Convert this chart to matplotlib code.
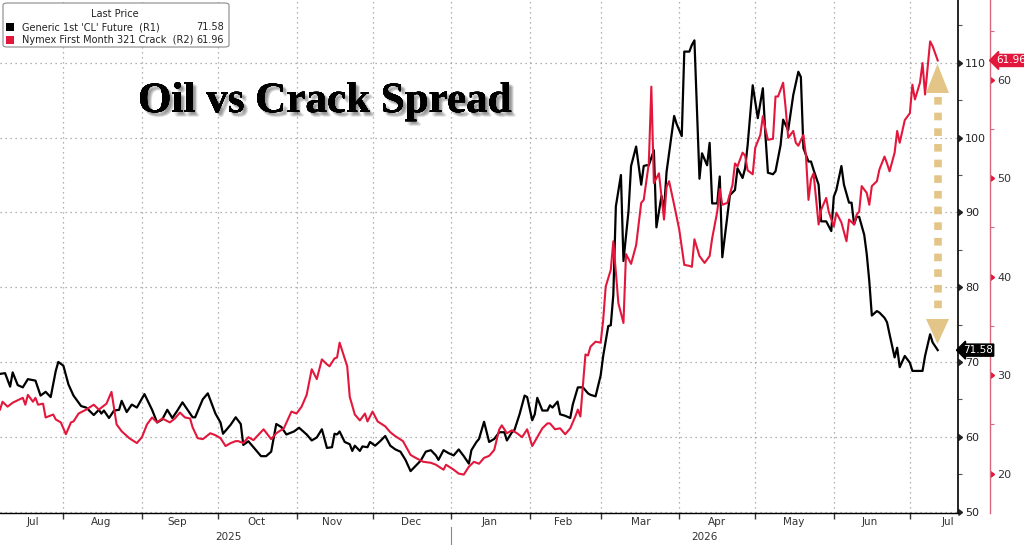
import matplotlib
matplotlib.use('Agg')
import matplotlib.pyplot as plt
import matplotlib.patheffects as pe
import matplotlib.transforms as mtransforms
from matplotlib.patches import FancyBboxPatch, Polygon, Rectangle
from matplotlib.lines import Line2D
from matplotlib.ticker import MultipleLocator, NullFormatter
import pandas as pd

# Generic 1st 'CL' Future (R1)
cl_dates = [
    '2025-07-07', '2025-07-09', '2025-07-11', '2025-07-12', '2025-07-14', '2025-07-16', '2025-07-18', '2025-07-21', '2025-07-23', '2025-07-25', '2025-07-27', '2025-07-29', '2025-07-30',
    '2025-08-01', '2025-08-03', '2025-08-05', '2025-08-08', '2025-08-10', '2025-08-13', '2025-08-15', '2025-08-16', '2025-08-17', '2025-08-19', '2025-08-21', '2025-08-23', '2025-08-24', '2025-08-26', '2025-08-28', '2025-08-30',
    '2025-09-02', '2025-09-05', '2025-09-07', '2025-09-09', '2025-09-11', '2025-09-13', '2025-09-15', '2025-09-17', '2025-09-19', '2025-09-21', '2025-09-22', '2025-09-25', '2025-09-27', '2025-09-30',
    '2025-10-02', '2025-10-03', '2025-10-06', '2025-10-08', '2025-10-10', '2025-10-11', '2025-10-13', '2025-10-15', '2025-10-18', '2025-10-20', '2025-10-22', '2025-10-24', '2025-10-26', '2025-10-28', '2025-10-31',
    '2025-11-02', '2025-11-05', '2025-11-07', '2025-11-09', '2025-11-11', '2025-11-13', '2025-11-15', '2025-11-16', '2025-11-17', '2025-11-18', '2025-11-20', '2025-11-22', '2025-11-23', '2025-11-24', '2025-11-26', '2025-11-27', '2025-11-29', '2025-11-30',
    '2025-12-02', '2025-12-04', '2025-12-06', '2025-12-08', '2025-12-10', '2025-12-12', '2025-12-14', '2025-12-16', '2025-12-18', '2025-12-20', '2025-12-22', '2025-12-24', '2025-12-26', '2025-12-27', '2025-12-29', '2025-12-31',
    '2026-01-02', '2026-01-04', '2026-01-06', '2026-01-08', '2026-01-09', '2026-01-11', '2026-01-12', '2026-01-14', '2026-01-16', '2026-01-18', '2026-01-20', '2026-01-22', '2026-01-23', '2026-01-25', '2026-01-26', '2026-01-28', '2026-01-30', '2026-01-31',
    '2026-02-02', '2026-02-03', '2026-02-04', '2026-02-06', '2026-02-08', '2026-02-09', '2026-02-10', '2026-02-12', '2026-02-13', '2026-02-15', '2026-02-17', '2026-02-18', '2026-02-20', '2026-02-22', '2026-02-24', '2026-02-25', '2026-02-27',
    '2026-03-01', '2026-03-02', '2026-03-04', '2026-03-05', '2026-03-06', '2026-03-07', '2026-03-09', '2026-03-10', '2026-03-12', '2026-03-13', '2026-03-15', '2026-03-17', '2026-03-18', '2026-03-19', '2026-03-20', '2026-03-22', '2026-03-23', '2026-03-25', '2026-03-26', '2026-03-27', '2026-03-30', '2026-03-31',
    '2026-04-02', '2026-04-03', '2026-04-05', '2026-04-06', '2026-04-07', '2026-04-09', '2026-04-10', '2026-04-12', '2026-04-13', '2026-04-14', '2026-04-16', '2026-04-17', '2026-04-18', '2026-04-20', '2026-04-21', '2026-04-23', '2026-04-24', '2026-04-26', '2026-04-27', '2026-04-28', '2026-04-30',
    '2026-05-02', '2026-05-04', '2026-05-05', '2026-05-06', '2026-05-08', '2026-05-09', '2026-05-11', '2026-05-12', '2026-05-13', '2026-05-14', '2026-05-16', '2026-05-18', '2026-05-19', '2026-05-20', '2026-05-22', '2026-05-23', '2026-05-24', '2026-05-26', '2026-05-27', '2026-05-28', '2026-05-29', '2026-05-31',
    '2026-06-01', '2026-06-02', '2026-06-04', '2026-06-05', '2026-06-07', '2026-06-08', '2026-06-09', '2026-06-10', '2026-06-11', '2026-06-13', '2026-06-14', '2026-06-15', '2026-06-16', '2026-06-18', '2026-06-19', '2026-06-21', '2026-06-22', '2026-06-23', '2026-06-25', '2026-06-26', '2026-06-27', '2026-06-29',
    '2026-07-01', '2026-07-02', '2026-07-04', '2026-07-06', '2026-07-07', '2026-07-09', '2026-07-10', '2026-07-12',
]
cl_values = [
    68.4, 68.5, 66.7, 68.6, 66.9, 66.6, 67.7, 67.5, 65.5, 66.0, 65.3, 68.8, 70.0,
    69.5, 67.0, 65.5, 64.1, 63.9, 62.9, 63.6, 63.1, 63.5, 62.5, 63.5, 63.6, 64.8, 63.3, 64.3, 63.9,
    65.7, 63.6, 61.9, 62.3, 63.6, 62.5, 63.5, 64.6, 63.6, 62.6, 62.6, 65.0, 65.8, 63.1,
    61.9, 60.4, 61.6, 62.6, 61.7, 58.9, 59.4, 58.6, 57.4, 57.4, 58.0, 61.7, 61.3, 60.3, 60.7,
    61.2, 60.3, 59.5, 59.9, 61.0, 58.5, 58.6, 60.4, 60.3, 60.7, 59.3, 59.0, 58.1, 58.8, 58.1, 58.7, 58.6, 59.3,
    58.8, 59.4, 60.1, 58.8, 58.3, 58.0, 56.9, 55.4, 56.1, 56.8, 58.0, 58.2, 57.5, 56.9, 58.2, 57.8,
    57.5, 58.3, 57.4, 56.4, 58.2, 59.3, 59.7, 62.0, 59.3, 59.7, 60.6, 60.6, 59.5, 60.6, 60.9, 63.0, 65.5, 65.3,
    62.2, 63.0, 65.2, 63.5, 63.5, 64.2, 63.9, 64.7, 63.0, 62.8, 62.5, 64.3, 66.6, 66.6, 65.8, 65.6, 65.4,
    68.2, 70.8, 74.8, 74.9, 79.0, 90.8, 95.0, 83.5, 90.2, 96.2, 98.8, 93.7, 96.2, 96.3, 96.3, 98.3, 88.0, 92.2, 90.2, 95.4, 102.9, 101.8,
    100.2, 111.5, 111.5, 112.4, 113.0, 94.5, 97.9, 96.3, 99.3, 91.2, 91.2, 94.8, 84.0, 89.6, 92.3, 93.0, 95.9, 94.6, 95.9, 99.0, 107.0,
    102.6, 106.6, 100.4, 95.3, 95.1, 95.5, 99.0, 102.4, 101.7, 101.0, 105.7, 108.8, 108.1, 98.6, 96.8, 96.8, 95.7, 93.7, 88.8, 88.8, 88.8, 87.5,
    92.1, 93.0, 96.2, 93.7, 91.3, 91.3, 88.4, 89.4, 89.4, 87.0, 84.4, 80.8, 76.2, 76.8, 76.6, 75.9, 75.3, 73.7, 70.6, 71.9, 69.3, 70.8,
    69.9, 68.8, 68.8, 68.8, 70.8, 73.7, 72.6, 71.58,
]

# Nymex First Month 321 Crack (R2)
crack_dates = [
    '2025-07-07', '2025-07-08', '2025-07-10', '2025-07-12', '2025-07-16', '2025-07-17', '2025-07-18', '2025-07-20', '2025-07-21', '2025-07-22', '2025-07-24', '2025-07-25', '2025-07-28', '2025-07-29', '2025-07-31',
    '2025-08-02', '2025-08-04', '2025-08-05', '2025-08-07', '2025-08-10', '2025-08-13', '2025-08-15', '2025-08-18', '2025-08-20', '2025-08-22', '2025-08-24', '2025-08-27', '2025-08-30',
    '2025-09-01', '2025-09-03', '2025-09-05', '2025-09-07', '2025-09-09', '2025-09-12', '2025-09-14', '2025-09-16', '2025-09-18', '2025-09-20', '2025-09-21', '2025-09-23', '2025-09-25', '2025-09-28', '2025-09-30',
    '2025-10-02', '2025-10-04', '2025-10-06', '2025-10-08', '2025-10-09', '2025-10-11', '2025-10-13', '2025-10-15', '2025-10-19', '2025-10-22', '2025-10-24', '2025-10-27', '2025-10-30',
    '2025-11-01', '2025-11-03', '2025-11-05', '2025-11-07', '2025-11-09', '2025-11-11', '2025-11-13', '2025-11-14', '2025-11-16', '2025-11-17', '2025-11-18', '2025-11-21', '2025-11-22', '2025-11-24', '2025-11-26', '2025-11-28', '2025-11-29',
    '2025-12-01', '2025-12-03', '2025-12-06', '2025-12-08', '2025-12-10', '2025-12-13', '2025-12-16', '2025-12-18', '2025-12-21', '2025-12-24', '2025-12-26', '2025-12-29', '2025-12-30',
    '2026-01-02', '2026-01-04', '2026-01-06', '2026-01-08', '2026-01-10', '2026-01-12', '2026-01-14', '2026-01-16', '2026-01-18', '2026-01-20', '2026-01-21', '2026-01-23', '2026-01-25', '2026-01-27', '2026-01-29', '2026-01-31',
    '2026-02-02', '2026-02-04', '2026-02-06', '2026-02-08', '2026-02-09', '2026-02-11', '2026-02-13', '2026-02-15', '2026-02-17', '2026-02-19', '2026-02-20', '2026-02-21', '2026-02-23', '2026-02-24', '2026-02-25', '2026-02-27',
    '2026-03-01', '2026-03-02', '2026-03-03', '2026-03-05', '2026-03-06', '2026-03-08', '2026-03-10', '2026-03-11', '2026-03-13', '2026-03-15', '2026-03-17', '2026-03-18', '2026-03-20', '2026-03-21', '2026-03-22', '2026-03-24', '2026-03-26', '2026-03-27', '2026-03-28', '2026-03-30',
    '2026-04-01', '2026-04-03', '2026-04-05', '2026-04-06', '2026-04-07', '2026-04-09', '2026-04-11', '2026-04-13', '2026-04-14', '2026-04-16', '2026-04-17', '2026-04-18', '2026-04-20', '2026-04-22', '2026-04-23', '2026-04-24', '2026-04-26', '2026-04-27', '2026-04-28', '2026-04-30',
    '2026-05-01', '2026-05-03', '2026-05-04', '2026-05-05', '2026-05-06', '2026-05-08', '2026-05-09', '2026-05-10', '2026-05-12', '2026-05-13', '2026-05-14', '2026-05-16', '2026-05-17', '2026-05-18', '2026-05-20', '2026-05-21', '2026-05-22', '2026-05-23', '2026-05-24', '2026-05-26', '2026-05-27', '2026-05-29', '2026-05-30',
    '2026-06-01', '2026-06-02', '2026-06-04', '2026-06-06', '2026-06-07', '2026-06-09', '2026-06-10', '2026-06-11', '2026-06-12', '2026-06-14', '2026-06-15', '2026-06-16', '2026-06-18', '2026-06-19', '2026-06-21', '2026-06-22', '2026-06-23', '2026-06-25', '2026-06-26', '2026-06-27', '2026-06-29',
    '2026-07-01', '2026-07-02', '2026-07-03', '2026-07-05', '2026-07-06', '2026-07-07', '2026-07-09', '2026-07-10', '2026-07-12',
]
crack_values = [
    26.5, 27.3, 26.8, 27.2, 27.7, 27.0, 28.0, 27.3, 27.7, 27.0, 27.1, 25.7, 26.0, 25.5, 25.2,
    24.0, 25.2, 25.3, 26.1, 26.5, 27.0, 26.5, 27.1, 28.3, 25.0, 24.3, 23.6, 23.1,
    23.7, 25.0, 25.7, 25.2, 25.6, 25.2, 25.6, 26.2, 25.7, 25.6, 24.7, 23.6, 23.5, 24.1, 23.9,
    23.6, 22.8, 23.1, 23.3, 23.3, 23.1, 23.7, 23.4, 24.5, 23.5, 24.1, 24.6, 26.3,
    26.1, 26.8, 28.0, 30.6, 29.6, 31.6, 31.1, 30.9, 31.7, 31.8, 33.3, 30.9, 27.8, 26.0, 25.4, 26.1, 25.3,
    26.3, 25.3, 24.8, 24.2, 23.8, 23.3, 21.9, 21.6, 21.2, 21.1, 20.9, 20.4, 20.9,
    20.4, 20.0, 19.9, 20.7, 21.2, 21.0, 21.6, 21.8, 22.4, 24.5, 24.9, 24.1, 24.4, 24.1, 23.7, 24.5,
    22.8, 23.7, 24.6, 25.1, 25.1, 24.5, 24.6, 24.0, 24.6, 25.8, 26.5, 25.8, 32.1, 32.0, 32.9, 33.4,
    33.3, 35.6, 39.0, 40.7, 43.6, 37.3, 35.3, 42.3, 41.3, 43.2, 47.5, 47.8, 51.5, 59.3, 49.5, 50.5, 45.8, 49.1, 49.7, 47.3,
    44.8, 41.2, 41.1, 41.0, 43.8, 42.1, 41.4, 42.1, 43.9, 46.6, 48.9, 47.3, 47.5, 49.3, 51.5, 51.2, 52.6, 52.3, 50.8, 50.4,
    53.1, 54.4, 56.3, 55.0, 53.9, 54.0, 58.3, 58.3, 59.7, 57.1, 54.1, 54.8, 53.6, 53.3, 54.4, 52.3, 47.8, 49.9, 50.5, 45.3, 46.8, 48.0, 46.6,
    45.1, 46.5, 45.5, 43.6, 45.8, 45.3, 46.3, 46.6, 49.2, 48.5, 47.3, 49.2, 49.7, 50.9, 52.2, 51.5, 50.7, 52.6, 54.8, 53.6, 55.9,
    56.6, 59.5, 58.0, 59.7, 61.7, 58.5, 63.9, 63.4, 61.96,
]

month_labels = ['Jul', 'Aug', 'Sep', 'Oct', 'Nov', 'Dec', 'Jan', 'Feb', 'Mar', 'Apr', 'May', 'Jun', 'Jul']
month_label_dates = ['2025-07-20', '2025-08-16', '2025-09-15', '2025-10-16', '2025-11-15', '2025-12-16',
                     '2026-01-16', '2026-02-14', '2026-03-17', '2026-04-16', '2026-05-16', '2026-06-15', '2026-07-16']
year_labels = ['2025', '2026']
year_label_dates = ['2025-10-05', '2026-04-11']

series_names = ["Generic 1st 'CL' Future  (R1)", "Nymex First Month 321 Crack  (R2)"]

RED = '#e3173c'
GOLD = '#e0bf7a'

W, H = 1024, 545
fig = plt.figure(figsize=(W / 100, H / 100), dpi=100)
ax = fig.add_axes([0, 32 / H, 958 / W, 513 / H])
ax2 = ax.twinx()

x_cl = pd.to_datetime(cl_dates)
x_crack = pd.to_datetime(crack_dates)

ax.plot(x_cl, cl_values, color='black', lw=1.6, zorder=3)
ax2.plot(x_crack, crack_values, color=RED, lw=1.5, zorder=3)

ax.set_xlim(pd.Timestamp('2025-07-07'), pd.Timestamp('2026-07-20'))
ax.set_ylim(49.8, 118.4)
ax2.set_ylim(16.0, 68.1)

# eixo R1 (a direita)
ax.yaxis.tick_right()
ax.yaxis.set_major_locator(MultipleLocator(10))
ax.yaxis.set_minor_locator(MultipleLocator(5))
ax.tick_params(axis='y', which='major', direction='out', length=4, width=1.0, labelsize=8, pad=1, colors='#222222')
ax.tick_params(axis='y', which='minor', direction='out', length=3, width=0.8, color='#555555')
for s in ['left', 'top']:
    ax.spines[s].set_visible(False)
ax.spines['right'].set_linewidth(1.2)
ax.spines['bottom'].set_linewidth(1.0)

# eixo de datas
month_starts = pd.date_range('2025-08-01', '2026-07-01', freq='MS')
ax.set_xticks(month_starts)
ax.xaxis.set_major_formatter(NullFormatter())
ax.set_xticks(pd.to_datetime(month_label_dates), minor=True)
ax.set_xticklabels(month_labels, minor=True)
ax.tick_params(axis='x', which='major', direction='out', length=4, width=1.0, color='#333333')
ax.tick_params(axis='x', which='minor', length=0, labelsize=7.5, pad=3, labelcolor='#333333')

ax.grid(axis='both', which='major', linestyle=(0, (1, 3)), color='#9a9a9a', lw=0.9)

trans = ax.get_xaxis_transform()
for lab, d in zip(year_labels, year_label_dates):
    ax.text(pd.Timestamp(d), -24 / 513, lab, transform=trans, ha='center', va='center',
            fontsize=7.5, color='#333333')
jan1 = pd.Timestamp('2026-01-01')
ax.plot([jan1, jan1], [-14 / 513, -32 / 513], transform=trans, color='#888888', lw=0.8, clip_on=False)

# eixo R2
ax2.spines['right'].set_position(('axes', 990 / 958))
ax2.spines['right'].set_color('#d9687e')
ax2.spines['right'].set_linewidth(1.0)
for s in ['left', 'top', 'bottom']:
    ax2.spines[s].set_visible(False)
ax2.yaxis.set_major_locator(MultipleLocator(10))
ax2.yaxis.set_minor_locator(MultipleLocator(5))
ax2.tick_params(axis='y', which='major', direction='out', length=4, width=1.0, color=RED, labelsize=8, pad=1, labelcolor='#333333')
ax2.tick_params(axis='y', which='minor', direction='out', length=3, width=0.8, color='#d9687e')

# marcadores triangulares nos ticks principais
fig.canvas.draw()
for a in (ax, ax2):
    for t in a.yaxis.get_major_ticks():
        t.tick2line.set_marker(matplotlib.markers.CARETRIGHTBASE)
        t.tick2line.set_markersize(4)

# etiquetas do ultimo valor
tag_trans = mtransforms.blended_transform_factory(ax2.transAxes, ax.transData)
ax2.text(1.005, cl_values[-1], f'{cl_values[-1]:.2f}', transform=tag_trans, ha='left', va='center',
         color='white', fontsize=7.5, zorder=10,
         bbox=dict(boxstyle='larrow,pad=0.1', fc='black', ec='black'))
ax2.text(1.0395, crack_values[-1], f'{crack_values[-1]:.2f}', transform=ax2.get_yaxis_transform(), ha='left', va='center',
         color='white', fontsize=7.5, zorder=10,
         bbox=dict(boxstyle='larrow,pad=0.1', fc=RED, ec=RED))


# legenda
def fx(px):
    return px / W


def fy(py):
    return 1 - py / H


fig.patches.append(FancyBboxPatch((fx(3), fy(47)), fx(226), 44 / H, boxstyle='round,pad=0,rounding_size=0.004',
                                  transform=fig.transFigure, fc='white', ec='#8a8a8a', lw=0.8, zorder=5))
fig.text(fx(115), fy(14), 'Last Price', ha='center', va='center', fontsize=7, color='#222222', zorder=6)
for i, (name, col, val) in enumerate(zip(series_names, ['black', RED], [cl_values[-1], crack_values[-1]])):
    yy = 27 + i * 13
    fig.patches.append(Rectangle((fx(6), fy(yy + 4)), fx(8), 8 / H, transform=fig.transFigure, fc=col, ec='none', zorder=6))
    fig.text(fx(22), fy(yy), name, ha='left', va='center', fontsize=7, color='#222222', zorder=6)
    fig.text(fx(224), fy(yy), f'{val:.2f}', ha='right', va='center', fontsize=7, color='#222222', zorder=6)

# titulo com sombra difusa
shadow = [pe.withSimplePatchShadow(offset=(dx, -dy), shadow_rgbFace='#444444', alpha=0.11)
          for dx, dy in [(1, 1), (2, 2), (3, 3), (2.5, 1.5), (1.5, 2.5), (3.5, 2.5), (2.5, 3.5)]]
fig.text(fx(138), fy(112), 'Oil vs Crack Spread', fontfamily='Liberation Serif', fontweight='bold', fontsize=31,
         va='baseline', ha='left', color='black', path_effects=shadow + [pe.Normal()])

# seta dourada
fig.lines.append(Line2D([fx(937.5), fx(937.5)], [fy(97), fy(316)], transform=fig.transFigure, color=GOLD,
                        lw=5.5, linestyle=(0, (1, 1.05)), dash_capstyle='butt', alpha=0.9))
fig.patches.append(Polygon([[fx(926), fy(93)], [fx(949), fy(93)], [fx(937.5), fy(64)]], closed=True,
                           transform=fig.transFigure, fc=GOLD, ec='none', alpha=0.9))
fig.patches.append(Polygon([[fx(926), fy(319)], [fx(949), fy(319)], [fx(937.5), fy(344)]], closed=True,
                           transform=fig.transFigure, fc=GOLD, ec='none', alpha=0.9))

fig.savefig('out.png', dpi=100)
